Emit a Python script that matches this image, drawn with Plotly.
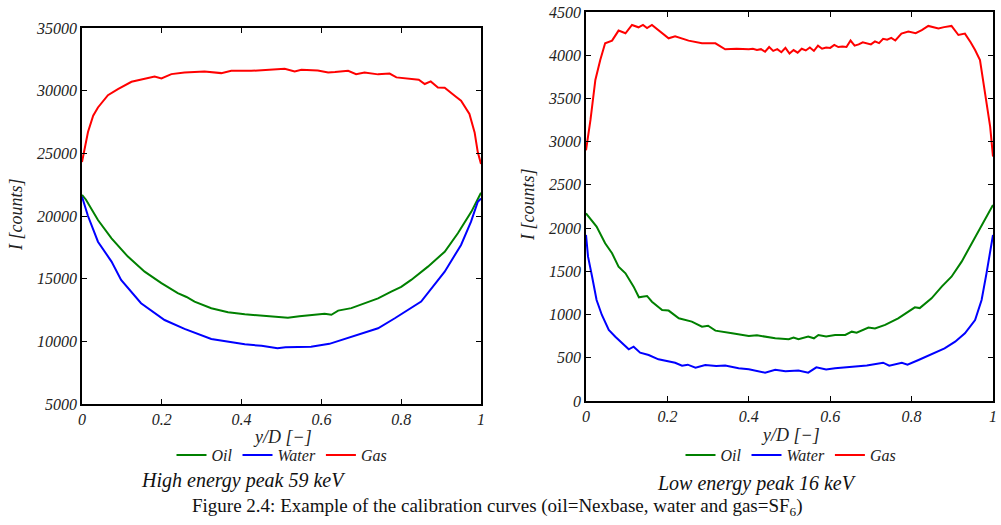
import plotly.graph_objects as go

# ---------------- High energy peak 59 keV (left panel) ----------------
h_gas_x = [0, 0.015, 0.028, 0.04, 0.065, 0.09, 0.124, 0.157, 0.182, 0.199, 0.224, 0.257, 0.307, 0.349,
           0.374, 0.424, 0.457, 0.491, 0.508, 0.533, 0.55, 0.591, 0.617, 0.634, 0.667, 0.687, 0.708, 0.742,
           0.771, 0.788, 0.825, 0.844, 0.859, 0.874, 0.892, 0.909, 0.934, 0.95, 0.971, 0.984, 0.992, 1.0]
h_gas_y = [24300, 26700, 28000, 28660, 29640, 30130, 30710, 30980, 31130, 30980, 31320, 31450, 31530, 31400,
           31580, 31580, 31660, 31710, 31740, 31530, 31660, 31610, 31450, 31480, 31580, 31320, 31450, 31300,
           31360, 31060, 30930, 30880, 30530, 30740, 30260, 30230, 29600, 29200, 28140, 26670, 25080, 24150]

h_oil_x = [0, 0.01, 0.04, 0.074, 0.115, 0.157, 0.199, 0.24, 0.262, 0.282, 0.324, 0.366, 0.408, 0.45, 0.491,
           0.516, 0.545, 0.575, 0.608, 0.625, 0.642, 0.675, 0.709, 0.742, 0.775, 0.8, 0.825, 0.867, 0.909,
           0.942, 0.976, 1.0]
h_oil_y = [21680, 21300, 19680, 18220, 16760, 15560, 14640, 13840, 13540, 13170, 12640, 12320, 12160, 12050, 11970,
           11880, 12000, 12100, 12200, 12120, 12450, 12650, 13040, 13430, 13960, 14340, 14900, 15960, 17150,
           18620, 20350, 21860]

h_water_x = [0, 0.015, 0.04, 0.074, 0.098, 0.148, 0.207, 0.257, 0.324, 0.408, 0.45, 0.49, 0.51, 0.574, 0.62,
             0.658, 0.742, 0.784, 0.85, 0.909, 0.95, 0.975, 0.992, 1.0]
h_water_y = [21540, 20000, 17950, 16360, 14900, 13040, 11700, 10990, 10190, 9760, 9640, 9440, 9520, 9570, 9800,
             10190, 11040, 11840, 13170, 15560, 17690, 19550, 21140, 21400]

# ---------------- Low energy peak 16 keV (right panel) ----------------
l_gas_x = [0, 0.011, 0.023, 0.035, 0.047, 0.064, 0.08, 0.097, 0.113, 0.129, 0.14, 0.15, 0.162, 0.187, 0.203,
           0.219, 0.252, 0.285, 0.318, 0.342, 0.37, 0.4, 0.41, 0.42, 0.43, 0.44, 0.45, 0.46, 0.47, 0.48, 0.49,
           0.5, 0.51, 0.52, 0.53, 0.54, 0.55, 0.56, 0.57, 0.58, 0.59, 0.6, 0.61, 0.62, 0.63, 0.64, 0.65, 0.66,
           0.67, 0.68, 0.69, 0.7, 0.71, 0.72, 0.73, 0.74, 0.75, 0.76, 0.775, 0.792, 0.81, 0.825, 0.841, 0.866,
           0.88, 0.898, 0.915, 0.931, 0.945, 0.956, 0.968, 0.98, 0.993, 1.0]
l_gas_y = [2900, 3251, 3714, 3945, 4138, 4169, 4285, 4254, 4350, 4323, 4350, 4315, 4350, 4254, 4196,
           4220, 4169, 4138, 4138, 4069, 4075, 4069, 4075, 4060, 4070, 4040, 4095, 4050, 4070, 4035, 4085,
           4020, 4060, 4030, 4075, 4055, 4090, 4050, 4110, 4075, 4090, 4085, 4120, 4095, 4100, 4095, 4170, 4110,
           4125, 4150, 4140, 4125, 4160, 4140, 4190, 4180, 4200, 4170, 4250, 4273, 4255, 4290, 4339, 4310,
           4325, 4339, 4234, 4250, 4150, 4061, 3945, 3560, 3174, 2827]

l_oil_x = [0, 0.015, 0.026, 0.047, 0.064, 0.08, 0.097, 0.117, 0.13, 0.138, 0.15, 0.162, 0.187, 0.203, 0.228,
           0.26, 0.285, 0.3, 0.318, 0.359, 0.4, 0.42, 0.441, 0.465, 0.498, 0.51, 0.522, 0.546, 0.56, 0.571,
           0.59, 0.612, 0.637, 0.653, 0.665, 0.694, 0.71, 0.735, 0.767, 0.808, 0.82, 0.849, 0.874, 0.898,
           0.923, 0.956, 0.98, 1.0]
l_oil_y = [2171, 2075, 2017, 1825, 1709, 1554, 1477, 1323, 1200, 1207, 1215, 1149, 1053, 1046, 957,
           918, 860, 870, 814, 783, 752, 760, 745, 725, 714, 735, 714, 745, 725, 764,
           745, 764, 764, 802, 790, 849, 840, 880, 957, 1084, 1075, 1188, 1323, 1438,
           1612, 1901, 2094, 2268]

l_water_x = [0, 0.005, 0.015, 0.026, 0.039, 0.056, 0.072, 0.097, 0.105, 0.117, 0.133, 0.154, 0.178, 0.219,
             0.236, 0.25, 0.269, 0.293, 0.32, 0.342, 0.375, 0.4, 0.44, 0.465, 0.49, 0.522, 0.546, 0.566, 0.59,
             0.612, 0.653, 0.69, 0.73, 0.745, 0.776, 0.79, 0.817, 0.849, 0.881, 0.907, 0.931, 0.956, 0.972,
             0.984, 0.993, 1.0]
l_water_y = [1921, 1670, 1438, 1168, 995, 821, 744, 628, 598, 628, 559, 532, 482, 443,
             409, 420, 386, 417, 405, 410, 378, 367, 328, 360, 345, 352, 328, 390, 365,
             378, 398, 410, 443, 409, 443, 420, 474, 544, 609, 686, 783, 937, 1168,
             1477, 1747, 1921]

h_yticks = [5000, 10000, 15000, 20000, 25000, 30000, 35000]
l_yticks = [0, 500, 1000, 1500, 2000, 2500, 3000, 3500, 4000, 4500]
x_ticks = [0, 0.2, 0.4, 0.6, 0.8, 1]
x_ticklabels = ["0", "0.2", "0.4", "0.6", "0.8", "1"]

series_names = ["Oil", "Water", "Gas"]
series_colors = ["#008000", "#0000ff", "#ff0000"]

SERIF = "Liberation Serif, Times New Roman, serif"

W, H = 1001, 525


def px(xp):
    return xp / W


def py(yp):
    return 1 - yp / H


fig = go.Figure()

left = [(h_oil_x, h_oil_y), (h_water_x, h_water_y), (h_gas_x, h_gas_y)]
right = [(l_oil_x, l_oil_y), (l_water_x, l_water_y), (l_gas_x, l_gas_y)]

for (xs, ys), name, col in zip(left, series_names, series_colors):
    fig.add_trace(go.Scatter(x=xs, y=ys, mode="lines", name=name, line=dict(color=col, width=2),
                             xaxis="x", yaxis="y", legend="legend"))
for (xs, ys), name, col in zip(right, series_names, series_colors):
    fig.add_trace(go.Scatter(x=xs, y=ys, mode="lines", name=name, line=dict(color=col, width=2),
                             xaxis="x2", yaxis="y2", legend="legend2"))

tickfont = dict(family=SERIF, size=16, color="#222222", style="italic")
axis_common = dict(showline=True, linecolor="black", linewidth=1.5, mirror="ticks", ticks="inside",
                   ticklen=5, tickwidth=1, tickcolor="black", showgrid=False, zeroline=False,
                   tickfont=tickfont, automargin=False, ticklabeloverflow="allow")

fig.update_layout(
    template="none",
    width=W, height=H,
    margin=dict(l=0, r=0, t=0, b=0, autoexpand=False),
    paper_bgcolor="white", plot_bgcolor="white",
    xaxis=dict(domain=[px(82), px(481)], range=[0, 1], tickvals=x_ticks, ticktext=x_ticklabels,
               anchor="y", **axis_common),
    yaxis=dict(domain=[py(404), py(28)], range=[5000, 35000], tickvals=h_yticks,
               ticktext=[str(v) for v in h_yticks], anchor="x", **axis_common),
    xaxis2=dict(domain=[px(586), px(993)], range=[0, 1], tickvals=x_ticks, ticktext=x_ticklabels,
                anchor="y2", **axis_common),
    yaxis2=dict(domain=[py(401), py(12)], range=[0, 4500], tickvals=l_yticks,
                ticktext=[str(v) for v in l_yticks], anchor="x2", **axis_common),
    legend=dict(orientation="h", x=px(282), y=py(455), xanchor="center", yanchor="middle",
                font=dict(family=SERIF, size=16, color="#222222", style="italic"),
                bgcolor="rgba(0,0,0,0)", itemwidth=30, tracegroupgap=0),
    legend2=dict(orientation="h", x=px(791), y=py(455), xanchor="center", yanchor="middle",
                 font=dict(family=SERIF, size=16, color="#222222", style="italic"),
                 bgcolor="rgba(0,0,0,0)", itemwidth=30, tracegroupgap=0),
    showlegend=True,
)

ann_font = dict(family=SERIF, size=18, color="#222222", style="italic")
annotations = [
    dict(text="y/D [−]", x=px(282), y=py(437), xref="paper", yref="paper",
         showarrow=False, font=ann_font, xanchor="center", yanchor="middle"),
    dict(text="y/D [−]", x=px(790), y=py(435), xref="paper", yref="paper",
         showarrow=False, font=ann_font, xanchor="center", yanchor="middle"),
    dict(text="I [counts]", x=px(16), y=py(215), xref="paper", yref="paper",
         showarrow=False, font=ann_font, textangle=-90, xanchor="center", yanchor="middle"),
    dict(text="I [counts]", x=px(528), y=py(205), xref="paper", yref="paper",
         showarrow=False, font=ann_font, textangle=-90, xanchor="center", yanchor="middle"),
    dict(text="High energy peak 59 keV", x=px(243), y=py(480), xref="paper", yref="paper",
         showarrow=False, font=dict(family=SERIF, size=20, color="#111111", style="italic"),
         xanchor="center", yanchor="middle"),
    dict(text="Low energy peak 16 keV", x=px(757), y=py(483), xref="paper", yref="paper",
         showarrow=False, font=dict(family=SERIF, size=20, color="#111111", style="italic"),
         xanchor="center", yanchor="middle"),
    dict(text="Figure 2.4: Example of the calibration curves (oil=Nexbase, water and gas=SF<sub>6</sub>)",
         x=px(497), y=py(507), xref="paper", yref="paper", showarrow=False,
         font=dict(family=SERIF, size=19, color="#111111"), xanchor="center", yanchor="middle"),
]
fig.update_layout(annotations=annotations)

# remove the default 8px page margin so the figure fills the window exactly; hide the modebar
fig.write_html("out.html", config={"displayModeBar": False},
               post_script="document.body.style.margin='0';document.body.style.overflow='hidden';")
